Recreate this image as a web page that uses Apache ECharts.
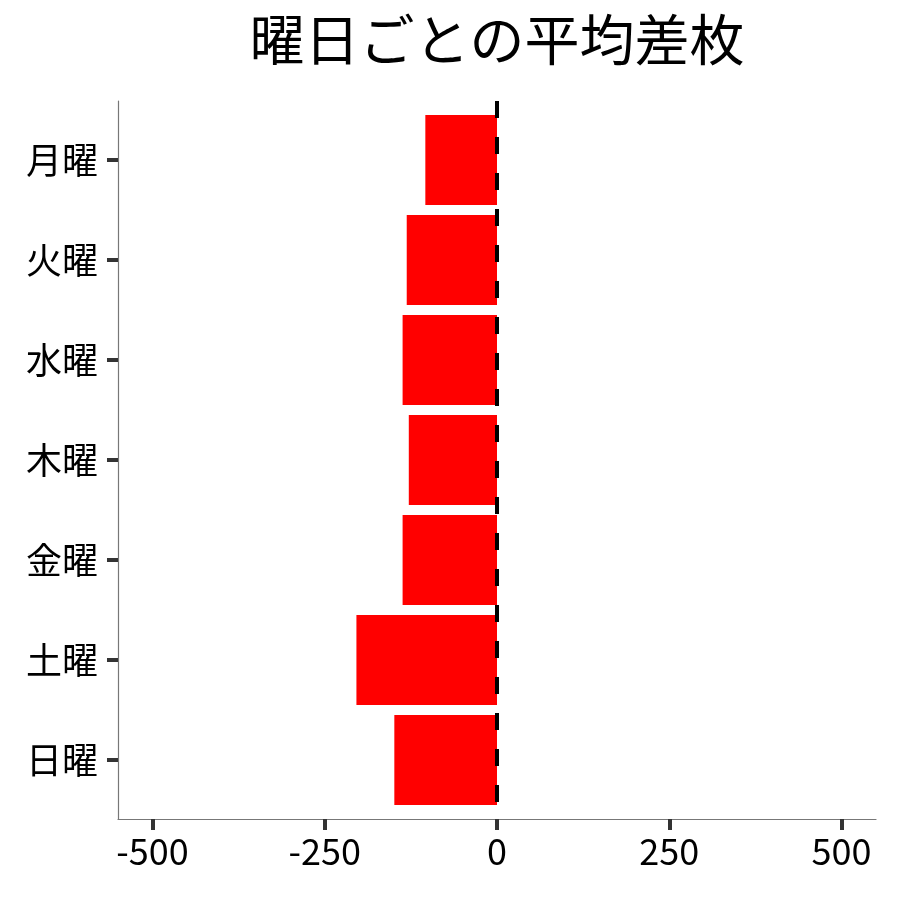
<!DOCTYPE html>
<html>
<head>
<meta charset="utf-8">
<script src="https://cdn.jsdelivr.net/npm/echarts@6/dist/echarts.min.js"></script>
<style>
  html, body { margin: 0; padding: 0; background: #fff; }
  #chart { width: 900px; height: 900px; }
</style>
</head>
<body>
<div id="chart"></div>
<script>
// 曜日ごとの平均差枚
const days = ['月曜', '火曜', '水曜', '木曜', '金曜', '土曜', '日曜']
const avgDiff = [-104, -131, -137, -128, -137, -204, -149]
const xTicks = [-500, -250, 0, 250, 500]
const xMin = -550
const xMax = 550

const FONT = '"Noto Sans CJK JP", "Noto Sans", sans-serif'

const chart = echarts.init(document.getElementById('chart'))

chart.setOption({
  backgroundColor: '#fff',
  animation: false,
  title: {
    text: '曜日ごとの平均差枚',
    left: 497,
    top: 12,
    padding: 0,
    textAlign: 'center',
    textStyle: { fontFamily: FONT, fontSize: 55, fontWeight: 'normal', color: '#000' }
  },
  grid: [
    // 枠（軸線と目盛）
    { left: 118, right: 24, top: 101, bottom: 81 },
    // 棒
    { left: 118, right: 24, top: 110, height: 700 }
  ],
  xAxis: [
    {
      gridIndex: 0,
      type: 'value',
      min: xMin,
      max: xMax,
      z: 10,
      axisLine: { show: true, onZero: false, lineStyle: { color: '#777', width: 1.2 } },
      axisTick: { show: true, customValues: xTicks, length: 11, lineStyle: { color: '#333', width: 4 } },
      axisLabel: { customValues: xTicks, fontFamily: FONT, fontSize: 36, color: '#000', margin: 14 },
      splitLine: { show: false }
    },
    {
      gridIndex: 1,
      type: 'value',
      min: xMin,
      max: xMax,
      show: false,
      splitLine: { show: false }
    }
  ],
  yAxis: [
    {
      gridIndex: 0,
      type: 'value',
      min: 0,
      max: 1,
      z: 10,
      axisLine: { show: true, onZero: false, lineStyle: { color: '#777', width: 1.2 } },
      axisTick: { show: false },
      axisLabel: { show: false },
      splitLine: { show: false }
    },
    {
      gridIndex: 1,
      type: 'category',
      inverse: true,
      data: days,
      z: 10,
      axisLine: { show: false, onZero: false },
      axisTick: { show: true, alignWithLabel: true, length: 11, lineStyle: { color: '#333', width: 4 } },
      axisLabel: { fontFamily: FONT, fontSize: 36, color: '#000', margin: 20 },
      splitLine: { show: false }
    }
  ],
  series: [
    {
      type: 'bar',
      xAxisIndex: 1,
      yAxisIndex: 1,
      data: avgDiff,
      barWidth: '90%',
      itemStyle: { color: '#ff0000' },
      z: 2
    },
    {
      // x = 0 の破線
      type: 'line',
      xAxisIndex: 0,
      yAxisIndex: 0,
      data: [[0, 1], [0, 0]],
      symbol: 'none',
      lineStyle: { color: '#000', width: 4, type: [17, 19] },
      z: 5
    }
  ]
})
</script>
</body>
</html>
